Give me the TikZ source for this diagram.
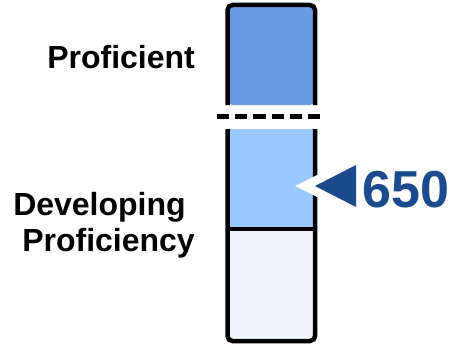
\documentclass[tikz,border=0pt]{standalone}
\usepackage{fontspec}
\setmainfont{Liberation Sans}
\definecolor{profblue}{HTML}{6A9AE3}
\definecolor{devblue}{HTML}{99C8FF}
\definecolor{lowblue}{HTML}{EFF5FF}
\definecolor{scoreblue}{HTML}{1B4B8D}
\begin{document}
\begin{tikzpicture}[x=1pt, y=-1pt, line width=4.5pt,
    lbl/.style={inner sep=0pt, font=\fontsize{32}{36}\selectfont\bfseries}]
    \useasboundingbox (0,0) rectangle (449,345);

    % Define bands
    \fill[profblue, rounded corners=5pt] (227.5,105) -- (227.5,5) -- (315,5) -- (315,105) -- cycle;
    \fill[devblue] (227.5,129) rectangle (315,229);
    \fill[lowblue, rounded corners=5pt] (227.5,229) -- (227.5,341) -- (315,341) -- (315,229) -- cycle;

    % Borders
    \draw[rounded corners=5pt] (227.5,105) -- (227.5,5) -- (315,5) -- (315,105);
    \draw[rounded corners=5pt] (227.5,129) -- (227.5,341) -- (315,341) -- (315,129);
    \draw (227.5,229) -- (315,229);

    % Cut line
    \coordinate (cutL) at (217,116.5);
    \coordinate (cutR) at (321,116.5);
    \draw[line width=4.5pt, dash pattern=on 12.2pt off 6pt] (cutL) -- (cutR);

    % Score marker
    \coordinate (tip) at (315,186);
    \fill[white] (295,186) -- (356,155.5) -- (356,216.5) -- cycle;
    \fill[scoreblue] (tip) -- (356,165) -- (356,207) -- cycle;
    \node[anchor=base west, inner sep=0pt, text=scoreblue,
          font=\fontsize{52}{58}\selectfont\bfseries] (score) at (360,207) {650};

    % Labels
    \node[lbl, anchor=base west] (prof) at (45,68) {Proficient};
    \node[lbl, anchor=base west] (dev) at (11,215.5) {Developing};
    \node[lbl, anchor=base west] (devb) at (20,251.5) {Proficiency};
\end{tikzpicture}
\end{document}
